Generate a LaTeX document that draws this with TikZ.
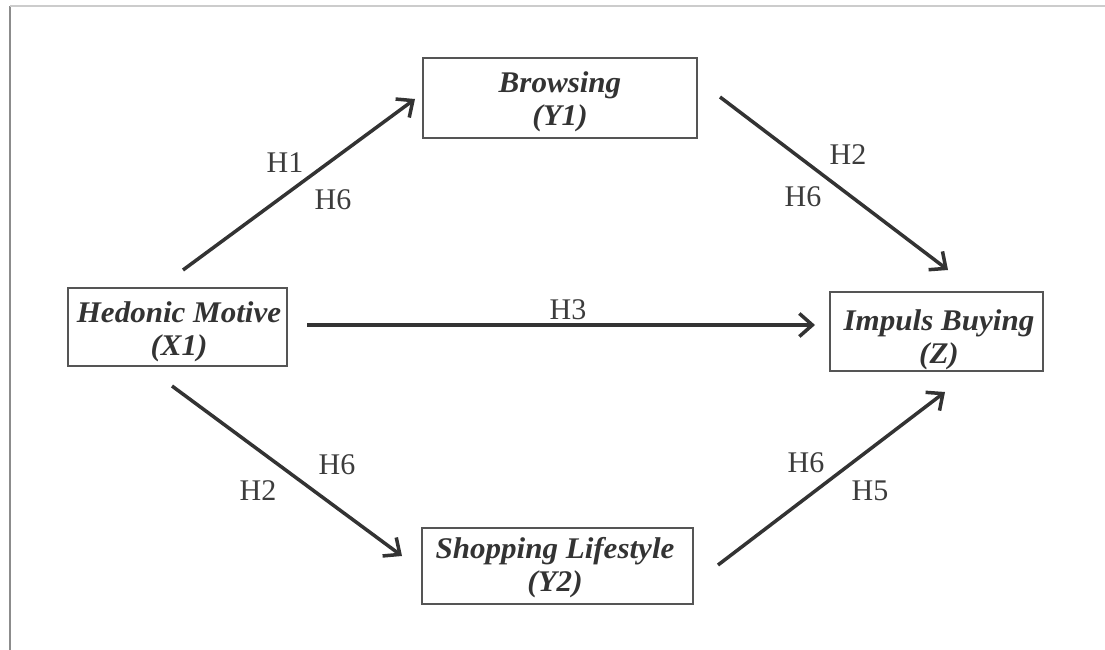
\documentclass[tikz,border=0pt]{standalone}
\usepackage{fontspec}
\setmainfont{Liberation Serif}
\newfontfamily\boxfont[FakeStretch=1.035]{Liberation Serif}
\usetikzlibrary{arrows.meta}
\definecolor{boxline}{HTML}{555555}
\definecolor{arrowc}{HTML}{333333}
\definecolor{labc}{HTML}{3C3C3C}
\tikzset{
  varbox/.style={draw=boxline, line width=1.6pt, inner sep=0pt},
  boxtext/.style={inner sep=0pt, align=center,
    font=\boxfont\bfseries\itshape\fontsize{30}{33}\selectfont, text=arrowc},
  conn/.style={draw=arrowc, line width=3.5pt, -{Straight Barb[length=13pt,width=23pt,line width=3.5pt]}},
  hlab/.style={font=\fontsize{30}{34}\selectfont, text=labc, inner sep=0pt}
}
\begin{document}
\begin{tikzpicture}[x=1pt,y=-1pt]
\useasboundingbox (0,0) rectangle (1105,650);
\draw[draw=gray!90, line width=2pt] (10,6) -- (10,650);
\draw[draw=gray!40, line width=1.5pt] (10,6) -- (1105,6);

\node[varbox, minimum width=274pt, minimum height=80pt] (brow) at (560,98) {};
\node[varbox, minimum width=219pt, minimum height=78pt] (hed) at (177.5,327) {};
\node[varbox, minimum width=213pt, minimum height=79pt] (imp) at (936.5,331.5) {};
\node[varbox, minimum width=271pt, minimum height=76pt] (shop) at (557.5,566) {};

\node[boxtext] (browt) at (560,101.5) {Browsing\\(Y1)};
\node[boxtext] (hedt) at (179,331.5) {Hedonic Motive\\(X1)};
\node[boxtext] (impt) at (939,339.5) {Impuls Buying\\(Z)};
\node[boxtext] (shopt) at (555,567.5) {Shopping Lifestyle\\(Y2)};

\coordinate (a1s) at (183,270); \coordinate (a1e) at (415,99);
\coordinate (a2s) at (720,97);  \coordinate (a2e) at (948,270);
\coordinate (a3s) at (307,325); \coordinate (a3e) at (815,325);
\coordinate (a4s) at (172,386); \coordinate (a4e) at (402,556);
\coordinate (a5s) at (718,565); \coordinate (a5e) at (945,392);

\draw[conn] (a1s) -- (a1e);
\draw[conn] (a2s) -- (a2e);
\draw[conn] (a3s) -- (a3e);
\draw[conn] (a4s) -- (a4e);
\draw[conn] (a5s) -- (a5e);

\node[hlab] (l1a) at (285,163) {H1};
\node[hlab] (l1b) at (333,200) {H6};
\node[hlab] (l2a) at (848,155) {H2};
\node[hlab] (l2b) at (803,197) {H6};
\node[hlab] (l3) at (568,310) {H3};
\node[hlab] (l4a) at (337,465) {H6};
\node[hlab] (l4b) at (258,491) {H2};
\node[hlab] (l5a) at (806,463) {H6};
\node[hlab] (l5b) at (870,491) {H5};
\end{tikzpicture}
\end{document}
